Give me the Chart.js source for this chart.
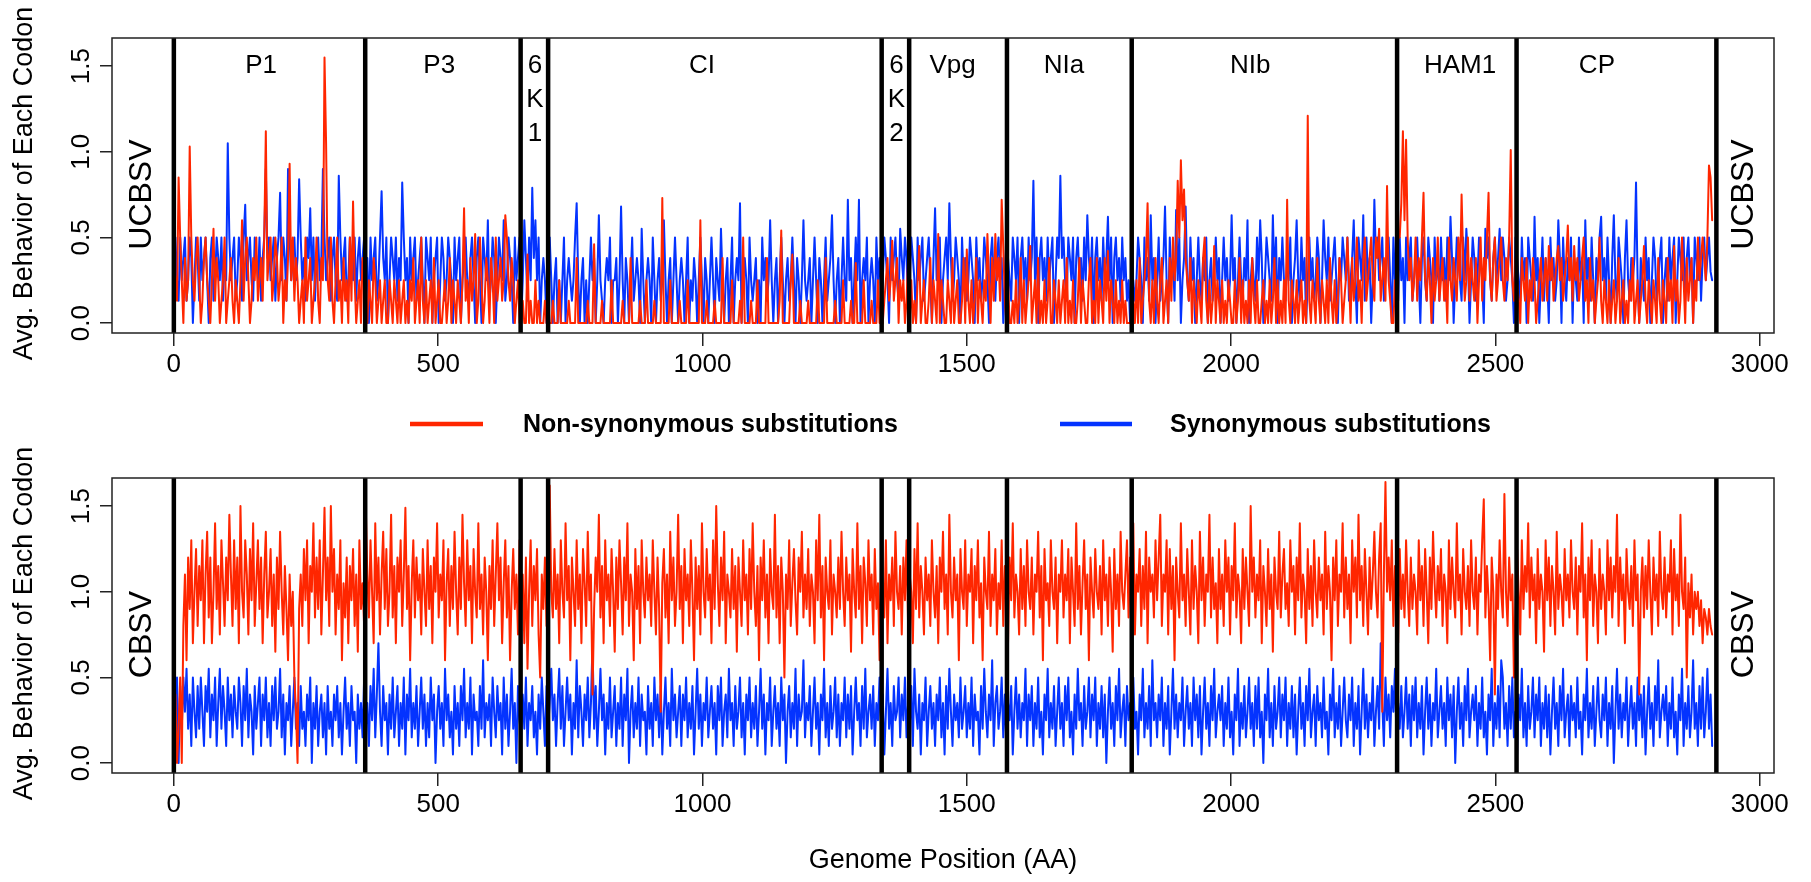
<!DOCTYPE html>
<html>
<head>
<meta charset="utf-8">
<script src="https://cdn.jsdelivr.net/npm/chart.js@4.4.1/dist/chart.umd.min.js"></script>
<style>
  body { margin: 0; background: #fff; }
  #wrap { position: relative; width: 1811px; height: 882px; }
  canvas { position: absolute; left: 0; }
</style>
</head>
<body>
<div id="wrap">
  <canvas id="topChart" width="1811" height="441" style="top:0"></canvas>
  <canvas id="bottomChart" width="1811" height="441" style="top:441px"></canvas>
</div>
<script>
// one value every 3 codons (20 values = 60 AA per row)
const step = 3;
const xTicks = [0, 500, 1000, 1500, 2000, 2500, 3000];
const yTicks = [0, 0.5, 1, 1.5];
const regionEdges = [0, 362, 656, 708, 1339, 1391, 1576, 1812, 2314, 2540, 2918];
const regionNames = ["P1", "P3", "6\nK\n1", "CI", "6\nK\n2", "Vpg", "NIa", "NIb", "HAM1", "CP"];
const regionLabelX = [165, 502, 683, 999, 1367, 1473, 1684, 2036, 2433, 2692];
const seriesNames = ["Non-synonymous substitutions", "Synonymous substitutions"];
const virusNames = ["UCBSV", "CBSV"];

const ucbsvNonSyn = [
  .38,.25,.13,.85,.5,.25,0,.38,.13,.25,1.03,.5,.25,.13,.38,.5,.25,0,.13,.38,
  .5,.25,.13,0,.25,.55,.13,.38,.25,0,.13,.25,.5,0,.13,.25,.38,.13,0,.25,
  .13,0,.25,.6,.13,.38,.5,.25,0,.13,.38,.25,.5,.13,.25,.38,.13,.5,1.12,.25,
  .38,.5,.13,.25,.5,.38,.13,.25,.5,0,.25,.13,.38,.93,.25,.5,.13,.38,.25,0,
  .13,.25,0,.5,.13,.25,.38,0,.13,.25,.5,.13,0,.38,.25,1.55,1.05,.25,.13,.5,
  .13,0,.25,.5,.13,.25,0,.38,.13,.25,0,.5,.13,.71,.25,0,.13,.25,0,.38,
  .25,.13,0,.25,.13,0,.38,.25,0,.13,.25,0,.13,.25,0,0,.25,.13,0,.25,
  .13,0,.25,0,.13,.25,0,.13,0,.25,.13,.38,0,.13,.25,0,.5,.13,0,.25,
  0,.13,.25,0,.38,0,.13,.25,0,0,.13,.25,0,.13,.38,0,.25,.13,0,.25,
  .13,0,.25,.67,.13,.25,0,.38,.13,.25,.52,0,.13,.5,.25,0,.13,.38,.25,0,
  .38,.25,0,.5,.13,.25,.38,.13,.25,.63,.5,.25,.13,.38,.25,0,.13,.25,0,0,
  .13,0,0,.4,0,.13,0,0,.25,0,.13,0,0,0,.13,0,0,0,0,.13,
  0,0,0,.25,0,0,0,0,0,.13,0,0,0,0,.38,0,0,0,0,0,
  0,.13,0,0,0,.46,0,0,0,0,.13,0,0,0,0,0,.25,0,0,0,
  0,0,0,.13,0,0,0,0,.38,0,0,0,0,0,.13,0,0,0,.25,0,
  0,0,0,.13,0,0,0,0,.73,0,0,0,0,.25,0,0,0,0,0,.13,
  0,0,0,0,.25,0,0,0,0,0,0,0,.6,0,0,0,.13,0,0,0,
  0,.13,0,0,0,0,.38,0,0,0,0,0,.25,0,0,0,0,.13,0,.5,
  0,0,0,0,.13,0,0,0,.25,0,0,0,0,0,.38,0,0,0,0,0,
  0,0,.13,.54,0,0,0,0,0,.25,.4,0,0,0,0,.13,0,0,0,0,
  .13,0,0,0,0,0,.25,0,0,0,0,.38,0,0,0,0,0,.13,0,0,
  0,0,.25,0,0,0,0,.13,0,0,.35,0,0,0,0,.25,0,0,0,0,
  .13,0,0,0,.25,0,0,0,.13,.25,.38,.13,.25,.48,.13,.25,.38,0,.25,.13,
  .25,0,.13,.38,0,.25,0,.13,0,.25,.45,0,.13,.25,0,0,.13,.38,0,.25,
  .13,0,.52,0,.25,.13,0,0,.25,.13,0,.38,0,.13,.25,0,0,.13,.38,0,
  .43,.13,0,.25,0,.13,.38,0,.25,.13,0,.25,.13,.52,.25,0,.38,.13,.52,.25,
  .38,.13,.72,.45,.13,0,.25,0,0,.13,0,.25,0,.13,.38,0,.25,0,.13,.25,
  .45,0,.13,.25,0,.38,0,.13,0,.25,0,.13,.38,0,0,.25,.13,0,.25,0,
  .13,.25,0,.38,0,.13,0,.25,0,0,.13,.38,0,.25,.13,0,0,.25,.38,0,
  .13,0,.38,0,.25,.13,0,.38,.13,.42,0,.25,.13,0,.25,0,.13,0,.25,0,
  .13,0,0,0,0,.13,0,.25,0,.38,0,.13,.25,.38,.7,.13,0,.25,0,.38,
  .13,0,.25,.38,0,.13,.25,0,.38,.13,.5,.25,.38,.83,.5,.95,.6,.78,.38,.25,
  .13,.38,0,.25,.13,0,.25,.13,0,.38,.5,.13,0,.25,0,.13,.45,0,.25,.13,
  0,.25,0,.13,0,.25,.13,0,0,.25,0,.13,.38,0,.25,0,.13,0,.25,0,
  .38,.13,0,.25,0,0,.13,.25,0,.13,0,.25,0,.13,.38,0,.25,0,.13,0,
  .25,0,.72,.13,0,.25,.13,0,.25,0,.13,.25,0,.13,0,1.21,.13,0,.25,.13,
  0,.38,.13,0,.25,.13,0,.25,0,.38,.13,0,.25,0,.13,.38,.25,0,.13,.25,
  .5,.25,0,.38,.13,.25,.5,.13,.25,0,.38,.5,.13,.25,.38,.5,.25,.13,.5,.38,
  .55,.13,.25,.38,.13,.8,.25,.13,0,0,.25,.13,.5,.5,.7,1.12,.6,1.07,.5,.25,
  .38,.13,.25,.5,.13,.38,.25,.5,.76,.25,.13,.38,.25,0,.38,.13,.25,.5,.13,.25,
  .38,.13,.25,0,.5,.25,.13,.38,.25,.13,.5,.25,.75,.38,.13,.25,.5,.13,.38,.25,
  .13,.38,0,.25,.5,.13,.38,.25,.5,.76,.25,.13,.38,.5,.13,.25,.38,.5,.25,.13,
  .38,.25,.5,1.01,.25,.13,.38,.25,.13,0,.38,.25,.13,.38,0,.25,.13,.38,.25,0,
  .13,.25,.38,.13,.25,.38,.13,.45,.25,.38,.13,.25,.38,.45,.25,.38,.13,.25,.38,.57,
  .25,.38,.13,.45,.25,.38,.13,.25,.38,.5,.13,.25,0,.38,.13,.25,0,.13,.25,.5,
  .13,0,.25,.13,0,.25,0,.13,.25,0,.13,.38,0,.13,.25,0,.13,0,.25,.13,
  .38,0,.13,.25,0,.13,.25,.45,.13,0,.25,.13,0,.25,.13,0,.38,.13,0,.25,
  .13,0,.38,.13,.25,0,.45,.13,.25,0,.13,.5,.25,0,.38,.13,.25,.38,0,.25,
  .13,.5,.25,.38,.5,.38,.25,.5,.92,.85,.6
];

const ucbsvSyn = [
  .38,.5,.25,.13,.5,.25,.38,.5,.13,.25,.5,.38,0,.25,.5,.38,.13,.5,.25,.38,
  .5,.25,0,.38,.5,.13,.25,.5,.38,.25,.5,.13,.38,.25,1.05,.5,.25,.38,.5,.13,
  .25,.5,.38,.13,.5,.69,.25,.38,.5,.25,.13,.5,.38,.25,.5,.13,.38,.5,.9,.38,
  .5,.25,.38,.5,.13,.38,.5,.76,.25,.5,.38,.13,.9,.5,.25,.38,.5,.25,.38,.84,
  .5,.25,.38,.13,.5,.38,.67,.25,.5,.13,.38,.5,.25,.38,.9,.5,.25,.38,.5,.13,
  .38,.5,.25,.13,.86,.5,.25,.38,.5,.13,.25,.5,.38,.25,.5,.13,.38,.5,.25,.38,
  .5,.25,.38,0,.5,.25,.38,.5,.13,.25,.5,.77,.38,.25,.5,0,.25,.5,.38,.25,
  .5,.13,.38,.25,.82,.5,.25,.38,0,.5,.25,.38,.5,.13,.25,.38,.5,.25,0,.5,
  .38,.25,.5,0,.25,.38,.5,0,.25,.5,.38,.13,.25,.5,.38,.25,0,.5,.25,.38,
  .5,0,.25,.38,.5,.25,.13,.38,.5,.25,0,.38,.5,.25,0,.5,.38,.25,.6,.13,
  .25,.5,.38,0,.25,.5,.38,.25,.6,.13,.25,.5,.38,.25,0,.5,.25,.38,.5,0,
  .25,.6,.38,.13,.5,.25,.79,.38,.6,.25,.5,0,.25,.38,.25,0,.25,.5,.25,0,
  .25,.38,0,.25,0,.25,.5,0,.25,.38,.25,.13,.25,.5,.7,.25,0,.25,.38,0,
  .25,0,.25,.5,.25,.38,0,.25,.63,.25,.13,0,.25,.38,.25,.5,0,.25,.25,.38,
  0,.25,.68,.25,0,.38,.25,0,.25,.5,.13,.25,.38,.25,0,.55,.25,0,.25,.38,
  .25,0,.5,.25,0,.25,.38,.13,.25,.6,.25,0,.25,.38,0,.25,.5,.25,0,.25,
  .38,.25,0,.25,.5,0,.25,.13,.38,.25,0,.25,.5,.25,0,.38,.25,0,.25,.5,
  .25,0,.38,.25,.13,.55,.25,0,.25,.38,0,.25,.5,0,.25,.38,.25,.7,0,.25,
  .38,.25,0,.5,.25,.13,.25,.38,0,.25,0,.5,.25,.38,.13,.25,.6,.25,0,.25,
  .38,0,.25,.5,.25,0,.25,.38,.13,.25,.5,.25,0,.38,.25,0,.25,.6,.25,.13,
  .25,.38,0,.25,.5,.25,0,.38,.25,0,.25,.5,.13,.25,.38,.63,.25,0,.25,.38,
  0,.25,.5,.25,.13,.72,.25,.38,0,.25,.5,.25,.72,0,.25,.38,.25,.5,0,.25,
  .38,.25,0,.5,.25,.38,.13,.25,.5,.38,.25,0,.5,.25,.38,.5,.25,.13,.55,.38,
  .25,.5,.38,.13,.25,.5,.38,.25,0,.5,.25,.38,.5,.13,.25,.38,.5,.25,0,.38,
  .67,.25,.38,.5,0,.25,.38,.5,.25,.7,.38,.13,.25,.5,.38,.25,0,.5,.25,.38,
  .13,.25,.5,.38,.25,0,.5,.25,.38,.13,.25,.5,.38,.25,0,.38,.5,.25,.13,.38,
  .5,.25,.38,0,.25,.5,.38,.25,.13,.5,.38,.25,.5,0,.38,.5,.25,.38,.13,.5,
  .25,.38,.83,.25,.5,0,.38,.5,.25,.38,.13,.5,.25,.38,.5,0,.25,.5,.38,.86,
  .38,.5,.25,.13,.5,.38,.25,.5,0,.38,.5,.25,.38,.13,.5,.25,.63,.38,.25,.5,
  0,.38,.5,.25,.38,.13,.5,.25,.38,.62,.25,.5,0,.38,.5,.25,.38,.13,.5,.25,
  .38,.13,.25,0,0,.25,.13,.25,.5,.38,.25,0,.5,.25,.38,.13,.63,.25,.38,0,
  .25,.5,.13,.25,.38,.68,.25,0,.5,.25,.38,.13,.66,.25,.5,0,.25,.38,.68,.25,
  .13,.5,.25,.38,0,.25,.5,.25,.13,.38,.25,.5,0,.25,.38,.13,.25,.5,.25,.38,
  0,.25,.5,.25,.38,.13,.25,.63,.25,.38,0,.25,.5,.25,.13,.38,.25,.6,0,.25,
  .38,.25,.13,.5,.25,.6,.38,0,.25,.5,.38,.25,.13,.63,.25,.5,0,.38,.25,.5,
  .25,.13,.38,.25,.5,0,.25,.38,.6,.25,.13,.5,.25,.38,0,.25,.5,.25,.38,.13,
  .25,.5,.38,0,.25,.6,.38,.25,.5,.13,.25,.38,.5,.25,0,.38,.25,.5,.38,.25,
  .5,.13,.25,.38,.6,.25,0,.5,.38,.25,.63,.13,.5,.25,.38,0,.25,.72,.38,.5,
  .25,.38,.5,.13,.25,.38,.5,.25,0,.5,.25,.38,.13,.5,.25,.38,0,.5,.25,.38,
  .5,.13,.25,.38,.5,.25,0,.38,.5,.25,.13,.5,.38,.25,0,.5,.25,.38,.13,.5,
  .25,.38,.13,.5,.25,.62,.38,0,.25,.5,.38,.25,.13,.5,.25,.55,.38,0,.25,.5,
  .38,.13,.25,.5,.38,.25,0,.55,.38,.5,.25,.13,.38,.5,.25,.38,.55,.25,.5,.38,
  .13,.25,.5,.38,.25,0,.5,.38,.25,.13,.5,.25,.38,0,.5,.38,.25,.13,.62,.25,
  .38,0,.25,.5,.13,.38,.25,0,.5,.25,.38,.13,.25,.6,.38,0,.5,.25,.13,.38,
  .25,.5,0,.38,.25,.13,.5,.25,.38,0,.6,.25,.38,.13,.5,.25,0,.38,.25,.5,
  .62,.25,.38,.13,.5,.25,0,.38,.63,.25,.13,.5,.38,.25,0,.38,.6,.25,.13,.38,
  .25,.38,.82,.25,0,.38,.25,.13,.5,.25,.38,0,.25,.5,.38,.13,.25,.38,.5,0,
  .25,.38,.13,.5,.25,.38,.5,0,.25,.5,.38,.25,.5,.13,.38,.5,.25,.38,0,.5,
  .38,.25,.5,.13,.38,.5,.25,.38,.5,.3,.25
];

const cbsvNonSyn = [
  0,.4,0,.2,.5,0,.8,1.1,.6,1.2,.9,1.3,.7,1.0,1.25,.8,1.15,.95,1.3,.7,
  1.1,1.35,.85,1.2,.7,1.0,1.4,.9,1.15,.75,1.3,1.05,.8,1.2,.95,1.45,1.1,.8,1.3,.9,
  1.2,.7,1.5,1.0,.85,1.3,1.1,.75,1.25,.95,1.4,.8,1.05,1.3,.9,1.2,.7,1.1,1.35,.85,
  1.0,1.25,.8,1.1,.65,1.2,.9,1.35,1.0,.75,1.15,.9,.6,1.1,.8,1.0,.5,.3,0,.9,
  1.1,.8,1.25,.95,1.3,.7,1.15,1.0,1.4,.85,1.2,.9,1.3,.75,1.1,1.49,.95,1.2,.8,1.5,
  1.0,1.25,.75,1.1,.9,1.3,.6,1.05,.85,1.2,.7,1.15,.95,1.25,.8,1.1,.65,1.3,.9,1.05,
  .8,1.5,1.1,.85,1.3,1.0,.7,1.4,.95,1.2,.75,1.1,1.35,.9,1.25,.8,1.0,1.45,.85,1.15,
  .7,1.2,1.0,1.3,.8,1.1,1.49,.9,1.15,.6,1.05,1.3,.85,1.2,.95,1.1,.75,1.25,1.0,.8,
  1.3,.9,1.15,.7,1.2,1.0,1.4,.85,1.1,.95,1.3,.6,1.05,1.25,.8,1.15,.9,1.35,1.0,.75,
  1.2,.9,1.45,1.05,.8,1.3,.95,1.15,.7,1.25,1.0,.85,1.4,.9,1.1,.75,1.2,1.0,.6,1.15,
  .9,1.3,.8,1.1,1.4,.95,1.2,.7,1.05,1.3,.85,1.15,.6,1.0,1.25,.9,1.1,.75,1.3,.95,
  1.1,.7,1.2,.55,1.0,1.3,.8,1.15,.95,1.25,.75,.5,1.1,.9,1.2,.8,1.05,1.62,1.0,.85,
  1.25,.9,1.1,.7,1.3,1.0,.85,1.4,.95,1.15,.6,1.2,1.0,.8,1.3,.9,1.1,.7,1.25,1.05,
  .8,1.35,.95,1.1,.4,.9,1.2,1.0,1.45,.85,1.15,.7,1.3,.95,1.1,.8,1.25,1.0,.65,1.2,
  .9,1.3,1.05,.75,1.2,.95,1.4,.8,1.1,1.0,.6,1.25,.9,1.15,.7,1.3,1.0,.85,1.2,.95,
  1.1,.8,1.3,1.0,.75,1.2,.9,.3,1.05,1.25,.85,1.1,.7,1.35,.95,1.2,.8,1.0,1.45,.9,
  1.15,.7,1.25,.95,1.1,.8,1.3,1.0,.6,1.2,.9,1.15,.75,1.4,1.0,.85,1.25,.95,1.1,.7,
  1.3,.9,1.5,1.05,.8,1.2,.95,1.35,.7,1.1,1.0,.85,1.25,.9,1.15,.65,1.2,1.0,.8,1.3,
  .95,1.1,.75,1.25,.9,1.4,1.0,.8,1.15,.6,1.2,.95,1.3,.85,1.1,.7,1.25,1.0,.9,1.45,
  .85,1.15,.7,1.2,1.0,.5,1.1,.9,1.3,.8,1.05,1.25,.95,.75,1.2,1.0,1.35,.85,1.1,.9,
  1.25,.8,1.1,1.0,.7,1.3,.95,1.45,.85,1.15,.6,1.2,1.0,.9,1.3,.75,1.1,1.0,.85,1.2,
  .9,1.35,1.0,.8,1.2,.95,1.1,.65,1.25,1.0,.85,1.4,.9,1.15,.7,1.2,1.05,.8,1.3,.95,
  1.1,.75,1.25,.9,1.05,.6,1.2,1.0,.85,1.3,.7,1.1,.95,1.2,.8,1.35,1.0,.9,1.15,.75,
  1.2,.95,1.3,.8,1.1,1.0,.7,1.25,.9,1.4,.85,1.15,1.0,.75,1.2,.95,1.1,.8,1.3,1.0,
  .85,1.15,.7,1.2,1.0,1.35,.9,1.1,.75,1.45,1.0,.85,1.2,.95,1.1,.6,1.25,1.0,.9,1.3,
  .8,1.1,1.0,1.25,.7,1.15,.95,1.3,.85,1.05,.6,1.2,1.0,.9,1.35,.8,1.1,.95,1.25,.75,
  1.05,.9,1.3,.8,1.15,1.0,.7,1.2,.95,1.4,.85,1.1,1.0,.75,1.25,.9,1.15,.8,1.3,1.0,
  .9,1.2,.75,1.1,1.0,1.35,.85,1.15,.6,1.25,.95,1.05,.8,1.3,1.0,.9,1.2,.7,1.1,1.0,
  1.3,.85,1.1,.95,1.25,.7,1.2,1.0,.8,1.4,.9,1.15,.75,1.05,1.3,.9,1.1,.6,1.2,1.0,
  .85,1.25,1.0,.9,1.15,.75,1.3,.95,1.1,.8,1.2,1.0,.65,1.25,.9,1.1,.8,1.35,1.0,.9,
  1.1,1.3,.85,1.2,.95,1.4,.75,1.1,1.0,1.25,.8,1.15,.9,1.35,.7,1.2,1.0,1.1,.85,1.3,
  .95,1.2,1.45,.8,1.1,1.0,1.3,.75,1.25,.9,1.15,.6,1.2,1.0,.85,1.4,.95,1.1,.8,1.25,
  1.0,.75,1.3,.9,1.15,1.0,.7,1.35,.95,1.2,.8,1.1,1.0,1.45,.85,1.2,.9,1.05,.7,1.25,
  .9,1.1,.8,1.3,1.0,1.2,.75,1.15,.95,1.4,.85,1.1,1.0,.7,1.25,.9,1.2,1.0,.8,1.5,
  1.0,1.2,.85,1.1,.95,1.3,.7,1.15,1.0,.8,1.25,.9,1.1,.65,1.2,1.0,.9,1.35,.85,1.1,
  1.25,.9,1.05,.8,1.3,1.0,1.15,.75,1.2,.95,1.4,.85,1.1,1.0,.7,1.25,.9,1.15,.8,1.3,
  1.0,.85,1.2,.95,1.1,.75,1.35,.9,1.15,1.0,.6,1.2,.95,1.3,.8,1.1,1.0,1.4,.85,1.2,
  .9,1.1,.7,1.3,1.0,1.2,.85,1.45,.95,1.15,.8,1.25,1.0,.75,1.2,.9,1.1,1.35,1.0,.85,
  1.2,1.4,.3,1.1,1.64,1.0,1.2,.95,1.3,.8,1.15,1.0,.7,1.25,.9,1.1,.85,1.3,1.0,.8,
  1.2,.9,1.1,1.0,.75,1.3,.95,1.15,.8,1.25,1.0,.7,1.2,.9,1.35,1.05,.85,1.15,.95,1.25,
  .8,1.1,1.0,.7,1.3,.9,1.2,1.0,.85,1.4,.95,1.1,.75,1.25,1.0,.9,1.15,.8,1.3,1.0,
  .9,1.2,.75,1.1,1.0,1.3,1.54,.85,1.15,.95,.6,1.2,1.0,.4,1.1,.9,1.3,1.0,.85,1.57,
  1.0,.8,1.2,.95,1.1,.5,.9,1.25,1.0,.75,1.3,.9,1.15,1.0,1.4,.85,1.2,.95,1.1,.7,
  1.25,.9,1.1,1.0,.65,1.3,.95,1.2,.8,1.15,1.0,.75,1.35,.9,1.1,1.0,.8,1.25,.95,1.1,
  .85,1.3,1.0,.9,1.2,.75,1.15,1.0,1.4,.85,1.1,.6,1.2,.95,1.3,.8,1.1,1.0,.7,1.25,
  .9,1.1,1.0,.75,1.3,.95,1.2,.85,1.15,1.0,1.45,.8,1.2,.95,1.1,.7,1.25,1.0,.9,1.15,
  .8,1.3,.95,1.1,.4,1.0,1.2,.85,1.15,.9,1.3,1.0,.75,1.2,.95,1.1,.8,1.35,1.0,.9,
  1.2,.85,1.1,1.0,1.3,.75,1.25,.95,1.1,.8,1.45,1.0,.9,1.2,.5,1.05,.85,1.1,.75,1.0,
  .9,1.0,.8,.95,.7,.9,.85,.75,.9,.8,.75
];

const cbsvSyn = [
  .6,.1,.5,0,.45,.2,.5,.3,.55,.2,.4,.1,.5,.3,.15,.45,.2,.5,.3,.1,
  .45,.3,.55,.15,.4,.25,.5,.1,.35,.55,.2,.45,.3,.1,.5,.25,.4,.15,.45,.3,
  .2,.5,.35,.1,.45,.25,.55,.15,.4,.3,.05,.45,.2,.35,.5,.1,.4,.25,.5,.15,
  .35,.1,.45,.25,.5,.2,.3,.55,.15,.4,.05,.35,.25,.45,.1,.3,.5,.2,.35,.1,
  .45,.2,.3,.1,.4,.25,.5,0,.35,.2,.45,.1,.3,.4,.15,.35,.05,.45,.2,.3,
  .1,.4,.25,.45,.15,.35,.05,.3,.5,.2,.35,.1,.45,.25,.3,0,.4,.2,.35,.15,
  .5,.2,.35,.1,.45,.25,.55,.15,.4,.7,.3,.1,.45,.25,.35,.05,.4,.2,.5,.15,
  .3,.45,.1,.35,.2,.5,.05,.4,.25,.55,.15,.35,.2,.45,.1,.3,.5,.2,.4,.1,
  .35,.15,.5,.25,.4,0,.3,.45,.2,.35,.1,.55,.25,.4,.15,.3,.05,.45,.2,.35,
  .1,.45,.25,.55,.15,.35,.2,.5,.05,.4,.25,.3,.1,.45,.2,.6,.15,.35,.25,.4,
  .1,.5,.3,.15,.45,.25,.35,.05,.5,.2,.4,.1,.3,.55,.2,.35,0,.45,.25,.15,
  .4,.2,.5,.1,.35,.25,.45,.15,.3,.05,.4,.2,.5,.3,.1,.45,.2,.35,.55,.25,
  .4,.1,.35,.55,.2,.45,.1,.3,.5,.25,.4,.05,.35,.2,.6,.15,.45,.3,.1,.4,
  .25,.5,.15,.35,.7,.2,.45,.1,.3,.55,.25,.4,.05,.35,.2,.5,.15,.3,.45,.1,
  .35,.2,.5,.1,.4,.25,.55,0,.3,.45,.15,.35,.2,.5,.1,.4,.25,.3,.05,.45,
  .2,.35,.1,.5,.25,.4,.15,.45,.05,.3,.5,.2,.35,.1,.55,.25,.4,.15,.3,.45,
  .1,.4,.25,.5,.15,.35,.2,.45,.05,.3,.55,.2,.4,.1,.35,.25,.5,.15,.3,.45,
  .2,.35,.05,.45,.25,.5,.1,.3,.4,.15,.55,.25,.35,.1,.45,.2,.3,.5,.15,.35,
  .05,.4,.25,.5,.15,.35,.2,.45,.1,.3,.55,.2,.4,.05,.35,.25,.5,.1,.3,.45,
  .2,.35,.1,.5,.25,.4,0,.3,.45,.15,.35,.2,.55,.1,.4,.25,.3,.6,.15,.35,
  .25,.45,.1,.3,.5,.2,.35,.05,.4,.25,.55,.15,.35,.1,.45,.2,.3,.5,.15,.4,
  .1,.35,.25,.5,.15,.4,.2,.45,.05,.3,.5,.25,.35,.1,.45,.2,.55,.15,.3,.4,
  .2,.45,.1,.35,.25,.5,.15,.4,.05,.3,.55,.2,.35,.1,.45,.25,.3,.5,.15,.4,
  .25,.5,.15,.35,.2,.45,.1,.55,.3,.2,.4,.05,.35,.25,.5,.1,.3,.45,.2,.35,
  .1,.4,.25,.5,.15,.35,.05,.45,.2,.55,.3,.1,.4,.25,.35,.15,.5,.2,.3,.45,
  .15,.35,.2,.5,.1,.4,.25,.3,.05,.45,.2,.55,.3,.15,.4,.25,.6,.1,.35,.45,
  .2,.3,.5,.15,.4,.1,.35,.25,.45,.05,.3,.5,.2,.4,.15,.35,.25,.55,.1,.4,
  .25,.45,.1,.35,.2,.5,.15,.3,.05,.4,.25,.55,.15,.35,.2,.45,.1,.3,.5,.2,
  .35,.1,.45,.25,.5,.15,.3,.05,.4,.2,.55,.25,.35,.1,.45,.2,.3,.5,.15,.4,
  .25,.5,.1,.35,.2,.45,.15,.4,0,.3,.5,.2,.35,.1,.45,.25,.55,.15,.3,.4,
  .1,.45,.25,.35,.15,.5,.2,.3,.05,.4,.25,.55,.15,.35,.2,.45,.1,.6,.25,.35,
  .15,.4,.25,.5,.1,.35,.2,.45,.05,.3,.55,.2,.4,.15,.35,.25,.5,.1,.3,.45,
  .2,.35,.1,.5,.25,.4,.15,.45,.05,.3,.5,.2,.35,.1,.45,.25,.55,.15,.3,.4,
  .25,.45,.1,.35,.2,.5,.15,.3,.05,.4,.25,.55,.1,.35,.2,.45,.15,.3,.5,.2,
  .35,.1,.45,.2,.5,.15,.3,0,.4,.25,.55,.15,.35,.1,.45,.2,.3,.5,.15,.4,
  .25,.5,.1,.35,.2,.45,.15,.4,.05,.3,.5,.2,.35,.1,.45,.25,.55,.15,.3,.4,
  .1,.45,.25,.35,.15,.5,.2,.3,.05,.4,.25,.55,.15,.35,.2,.45,.1,.3,.5,.25,
  .15,.4,.25,.5,.1,.35,.2,.45,.05,.3,.55,.2,.4,.15,.35,.25,.5,.1,.3,.45,
  .2,.7,.35,.1,.5,.25,.4,.15,.45,.3,.55,.1,.35,.2,.45,.15,.3,.5,.2,.4,
  .1,.45,.25,.5,.15,.35,.2,.45,.05,.3,.5,.2,.4,.1,.35,.25,.55,.15,.3,.45,
  .2,.35,.1,.5,.25,.4,.15,.45,0,.3,.5,.2,.35,.1,.45,.25,.55,.15,.3,.4,
  .25,.45,.1,.35,.2,.5,.15,.3,.05,.4,.25,.55,.1,.35,.2,.45,.15,.6,.5,.2,
  .35,.1,.45,.2,.5,.15,.3,.05,.4,.25,.55,.15,.35,.1,.45,.2,.3,.5,.15,.4,
  .25,.5,.1,.35,.2,.45,.15,.4,.05,.3,.5,.2,.35,.1,.45,.25,.55,.15,.3,.4,
  .1,.45,.25,.35,.15,.5,.2,.3,.05,.4,.25,.55,.15,.35,.2,.45,.1,.3,.5,.25,
  .15,.4,.25,.5,.1,.35,.2,.45,0,.3,.55,.2,.4,.15,.35,.25,.5,.1,.3,.45,
  .2,.35,.1,.5,.25,.4,.15,.45,.05,.3,.5,.2,.35,.1,.45,.25,.6,.15,.3,.4,
  .25,.45,.1,.35,.2,.5,.15,.3,.05,.4,.25,.55,.1,.35,.2,.45,.15,.3,.6,.2,
  .35,.1,.45,.2,.5,.15,.3,.55,.2,.4,.1
];

const RED = "#ff2600";
const BLUE = "#0433ff";
const FONT = "'Liberation Sans', Arial, Helvetica, sans-serif";

function toPoints(values) {
  return values.map((v, i) => ({ x: i * step, y: v }));
}

// R-style decorations: box, region dividers, rotated labels, legend
const decor = {
  id: "decor",
  afterDatasetsDraw(chart, args, opts) {
    const { ctx, chartArea: a, scales: { x } } = chart;
    ctx.save();
    ctx.strokeStyle = "#000";
    ctx.lineWidth = 4.5;
    regionEdges.forEach(v => {
      const px = x.getPixelForValue(v);
      ctx.beginPath();
      ctx.moveTo(px, a.top);
      ctx.lineTo(px, a.bottom);
      ctx.stroke();
    });
    ctx.restore();
  },
  afterDraw(chart, args, opts) {
    const { ctx, chartArea: a, scales: { x, y } } = chart;
    ctx.save();
    ctx.strokeStyle = "#222";
    ctx.lineWidth = 1.5;
    ctx.strokeRect(a.left, a.top, a.right - a.left, a.bottom - a.top);

    ctx.fillStyle = "#000";
    ctx.textAlign = "center";
    ctx.textBaseline = "middle";

    ctx.font = "26px " + FONT;
    yTicks.forEach(v => {
      ctx.save();
      ctx.translate(82, y.getPixelForValue(v));
      ctx.rotate(-Math.PI / 2);
      ctx.fillText(v.toFixed(1), 0, 0);
      ctx.restore();
    });

    ctx.font = "27px " + FONT;
    ctx.save();
    ctx.translate(25, (a.top + a.bottom) / 2 - 2);
    ctx.rotate(-Math.PI / 2);
    ctx.fillText("Avg. Behavior of Each Codon", 0, 0);
    ctx.restore();

    ctx.font = "32px " + FONT;
    [-60, 2970].forEach(v => {
      ctx.save();
      ctx.translate(x.getPixelForValue(v), y.getPixelForValue(0.75));
      ctx.rotate(-Math.PI / 2);
      ctx.fillText(opts.virus, 0, 0);
      ctx.restore();
    });

    if (opts.regions) {
      ctx.font = "26px " + FONT;
      regionNames.forEach((name, i) => {
        const px = x.getPixelForValue(regionLabelX[i]);
        const py = y.getPixelForValue(1.5);
        name.split("\n").forEach((line, j) => ctx.fillText(line, px, py + j * 34));
      });
    }

    if (opts.legend) {
      const ly = 424;
      ctx.font = "bold 25px " + FONT;
      ctx.textAlign = "left";
      ctx.lineWidth = 4.5;
      [[RED, 410, 483, 523], [BLUE, 1060, 1132, 1170]].forEach((it, i) => {
        ctx.strokeStyle = it[0];
        ctx.beginPath();
        ctx.moveTo(it[1], ly);
        ctx.lineTo(it[2], ly);
        ctx.stroke();
        ctx.fillText(seriesNames[i], it[3], ly + 1);
      });
    }

    if (opts.xTitle) {
      ctx.font = "27px " + FONT;
      ctx.textAlign = "center";
      ctx.fillText("Genome Position (AA)", (a.left + a.right) / 2, 420);
    }
    ctx.restore();
  }
};

function makeChart(id, nonSyn, syn, virus, top, bottom, extra) {
  return new Chart(document.getElementById(id), {
    type: "line",
    data: {
      datasets: [
        { label: seriesNames[0], data: toPoints(nonSyn), borderColor: RED },
        { label: seriesNames[1], data: toPoints(syn), borderColor: BLUE }
      ]
    },
    options: {
      responsive: false,
      animation: false,
      parsing: false,
      normalized: true,
      layout: { padding: { left: 0, right: 37, top: top, bottom: 0 } },
      elements: {
        point: { radius: 0 },
        line: { borderWidth: 2, tension: 0, borderJoinStyle: "round", borderCapStyle: "round" }
      },
      scales: {
        x: {
          type: "linear",
          min: -117,
          max: 3027,
          afterBuildTicks: s => { s.ticks = xTicks.map(v => ({ value: v })); },
          afterFit: s => { s.height = 441 - bottom; },
          grid: { drawOnChartArea: false, drawTicks: true, tickLength: 13, color: "#222", lineWidth: 1.5 },
          border: { display: false },
          ticks: {
            padding: 3,
            color: "#000",
            font: { family: FONT, size: 26 },
            maxRotation: 0,
            autoSkip: false,
            callback: v => String(v)
          }
        },
        y: {
          type: "linear",
          min: -0.058,
          max: 1.664,
          afterBuildTicks: s => { s.ticks = yTicks.map(v => ({ value: v })); },
          afterFit: s => { s.width = 112; },
          grid: { drawOnChartArea: false, drawTicks: true, tickLength: 12, color: "#222", lineWidth: 1.5 },
          border: { display: false },
          ticks: { display: false }
        }
      },
      plugins: {
        legend: { display: false },
        tooltip: { enabled: false },
        decor: Object.assign({ virus: virus }, extra)
      }
    },
    plugins: [decor]
  });
}

makeChart("topChart", ucbsvNonSyn, ucbsvSyn, virusNames[0], 38, 333, { regions: true, legend: true });
makeChart("bottomChart", cbsvNonSyn, cbsvSyn, virusNames[1], 37, 332, { xTitle: true });
</script>
</body>
</html>
